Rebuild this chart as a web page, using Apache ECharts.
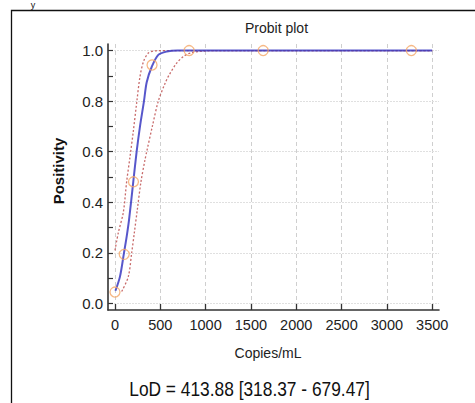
<!DOCTYPE html>
<html>
<head>
<meta charset="utf-8">
<style>
  html, body { margin: 0; padding: 0; background: #fff; }
  #chart { width: 475px; height: 403px; }
</style>
<script src="https://cdn.jsdelivr.net/npm/echarts@6/dist/echarts.min.js"></script>
</head>
<body>
<div id="chart"></div>
<script>
// ---- Data ----
var xTicks = [0, 500, 1000, 1500, 2000, 2500, 3000, 3500];
var yTicks = [0, 0.2, 0.4, 0.6, 0.8, 1.0];
var yTickMarks = [0, 0.1, 0.2, 0.3, 0.4, 0.5, 0.6, 0.7, 0.8, 0.9, 1.0];

// observed positivity (hollow circles)
var obsX = [0, 102, 204, 409, 818, 1635, 3270];
var obsY = [0.045, 0.194, 0.481, 0.943, 1.0, 1.0, 1.0];

// fitted probit curve (blue)
var fitX = [5, 55, 99, 129, 155, 202, 239, 276, 320, 350, 405, 478, 571, 690, 3500];
var fitY = [0.05, 0.106, 0.199, 0.264, 0.33, 0.482, 0.6, 0.70, 0.8, 0.875, 0.935, 0.983, 0.996, 1.0, 1.0];

// upper confidence limit (left dashed red)
var upX = [0, 37, 92, 129, 166, 202, 240, 276, 316, 368, 442, 600, 3500];
var upY = [0.21, 0.28, 0.36, 0.482, 0.58, 0.68, 0.795, 0.897, 0.958, 0.99, 0.999, 1.0, 1.0];

// lower confidence limit (right dashed red)
var loX = [74, 147, 184, 213, 246, 287, 331, 350, 412, 478, 552, 600, 680, 760, 847, 977, 1100, 3500];
var loY = [0.047, 0.106, 0.199, 0.278, 0.37, 0.482, 0.568, 0.6, 0.70, 0.80, 0.87, 0.905, 0.95, 0.978, 0.992, 0.998, 1.0, 1.0];

var titleText = 'Probit plot';
var xName = 'Copies/mL';
var yName = 'Positivity';
var lodText = 'LoD = 413.88 [318.37 - 679.47]';
var cornerText = 'y';

function pairs(xs, ys) {
  var out = [];
  for (var i = 0; i < xs.length; i++) out.push([xs[i], ys[i]]);
  return out;
}

var FONT = 'Liberation Sans, Arial, sans-serif';
var chart = echarts.init(document.getElementById('chart'), null, { renderer: 'svg' });

chart.setOption({
  backgroundColor: '#ffffff',
  animation: false,
  grid: { left: 108, right: 36, top: 44, bottom: 93, containLabel: false },
  xAxis: {
    type: 'value',
    min: -77,
    max: 3575,
    axisLine: { show: true, onZero: false, lineStyle: { color: '#333', width: 1.6 } },
    axisTick: { show: true, inside: true, length: 6, customValues: xTicks, lineStyle: { color: '#333', width: 1.3 } },
    axisLabel: {
      show: true, customValues: xTicks, margin: 7, color: '#222', fontSize: 14.5, fontFamily: FONT,
      formatter: function (v) { return String(Math.round(v)); }
    },
    splitLine: { show: true, lineStyle: { color: '#cfcfcf', width: 1, type: [4, 3] } }
  },
  yAxis: {
    type: 'value',
    min: -0.026,
    max: 1.026,
    axisLine: { show: true, onZero: false, lineStyle: { color: '#333', width: 1.6 } },
    axisTick: { show: true, inside: true, length: 5, customValues: yTickMarks, lineStyle: { color: '#333', width: 1.2 } },
    axisLabel: {
      show: true, customValues: yTicks, margin: 5, color: '#222', fontSize: 15, fontFamily: FONT,
      formatter: function (v) { return Number(v).toFixed(1); }
    },
    splitLine: { show: false }
  },
  series: [{
    type: 'line',
    data: pairs(upX, upY),
    showSymbol: false,
    smooth: 0.3,
    lineStyle: { color: '#c25a5a', width: 1.3, type: [2, 2], opacity: 0.9 },
    markLine: {
      silent: true,
      z: 0,
      zlevel: 0,
      symbol: 'none',
      label: { show: false },
      animation: false,
      lineStyle: { color: '#e0e0e0', width: 1, type: [2, 1] },
      data: yTicks.map(function (v) { return { yAxis: v }; })
    },
    z: 2
  }, {
    type: 'line',
    data: pairs(loX, loY),
    showSymbol: false,
    smooth: 0.3,
    lineStyle: { color: '#c25a5a', width: 1.3, type: [2, 2], opacity: 0.9 },
    z: 2
  }, {
    type: 'line',
    data: pairs(fitX, fitY),
    showSymbol: false,
    smooth: 0.3,
    lineStyle: { color: '#3a3ac2', width: 2, opacity: 0.85 },
    z: 3
  }, {
    type: 'scatter',
    data: pairs(obsX, obsY),
    symbol: 'circle',
    symbolSize: 10,
    itemStyle: { color: 'rgba(255,255,255,0)', borderColor: '#f5a868', borderWidth: 1.3 },
    z: 4
  }],
  graphic: [{
    type: 'rect',
    shape: { x: 11.5, y: 10.5, width: 480, height: 420 },
    style: { fill: 'none', stroke: '#111', lineWidth: 1.3 },
    silent: true
  }, {
    type: 'text',
    x: 33, y: 0,
    style: { text: cornerText, font: '9px ' + FONT, fill: '#111', textAlign: 'center', textVerticalAlign: 'top' }
  }, {
    type: 'text',
    x: 276.5, y: 28,
    style: { text: titleText, font: '14px ' + FONT, fill: '#222', textAlign: 'center', textVerticalAlign: 'middle' }
  }, {
    type: 'text',
    x: 58, y: 171,
    rotation: Math.PI / 2,
    style: { text: yName, font: 'bold 15px ' + FONT, fill: '#111', textAlign: 'center', textVerticalAlign: 'middle' }
  }, {
    type: 'text',
    x: 268, y: 353,
    style: { text: xName, font: '14px ' + FONT, fill: '#222', textAlign: 'center', textVerticalAlign: 'middle' }
  }, {
    type: 'text',
    x: 249.5, y: 389,
    scaleX: 0.89,
    style: { text: lodText, font: '19.5px ' + FONT, fill: '#111', textAlign: 'center', textVerticalAlign: 'middle' }
  }]
});
</script>
</body>
</html>
